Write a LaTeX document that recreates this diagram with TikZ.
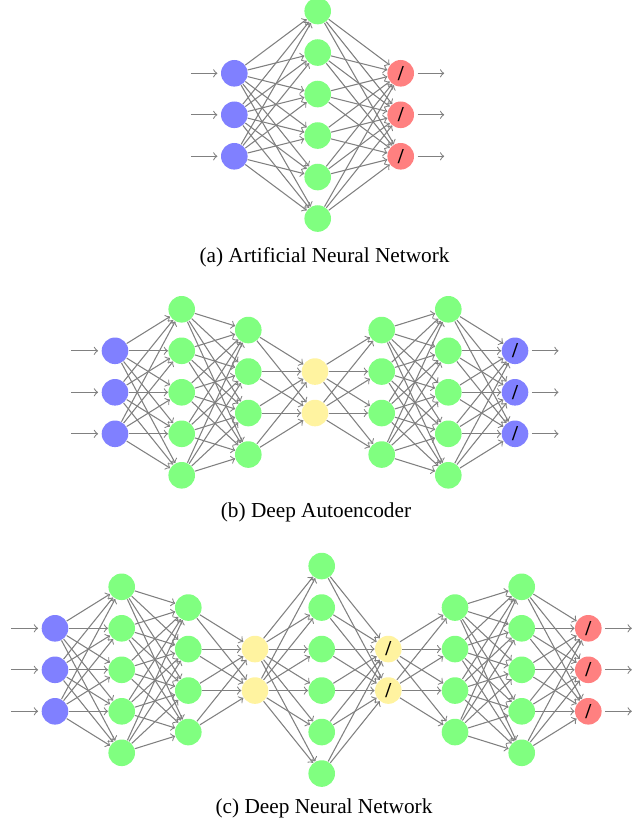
\documentclass[tikz,border=0pt]{standalone}
\usepackage{fontspec}
\setmainfont{Liberation Serif}
\usetikzlibrary{positioning}

\definecolor{inblue}{RGB}{128,128,255}
\definecolor{hidgreen}{RGB}{128,255,128}
\definecolor{codeyellow}{RGB}{255,243,160}
\definecolor{outred}{RGB}{255,128,128}

\def\vgap{41.5}

% one network: #1 name prefix, #2 centre line, #3 layers as x/count/style
\newcommand{\netpanel}[3]{%
  \foreach \x/\n/\s [count=\i, remember=\n as \m (initially 0)] in {#3} {
    \foreach \j in {1,...,\n}
      \node (#1-\i-\j) at (\x, {#2+(\j-(\n+1)/2)*\vgap}) [\s];
    \ifnum\i>1
      \pgfmathtruncatemacro\h{\i-1}
      \foreach \p in {1,...,\m}
        \foreach \q in {1,...,\n}
          \draw[link] (#1-\h-\p) -- (#1-\i-\q);
    \fi
  }%
}

\begin{document}
\begin{tikzpicture}[
    x=0.47pt, y=-0.47pt,
    neuron/.style={circle, inner sep=0pt, minimum size=12.5pt, font=\bfseries, node contents={}},
    inp/.style={neuron, fill=inblue},
    hid/.style={neuron, fill=hidgreen},
    code/.style={neuron, fill=codeyellow},
    codeout/.style={code, node contents=/},
    outp/.style={neuron, fill=outred, node contents=/},
    outb/.style={inp, node contents=/},
    link/.style={->, draw=gray, line width=0.5pt},
    inarrow/.style={link, shorten >=1.5pt},
    outarrow/.style={link, shorten <=1.5pt},
    caption/.style={font=\normalsize},
    >=to
]
\useasboundingbox (0,0) rectangle (641,824);

% (a)
\netpanel{a}{114.8}{234.3/3/inp, 317.7/6/hid, 400.7/3/outp}
\foreach \j in {1,2,3} {
  \coordinate[left=14pt of a-1-\j] (a-in-\j);
  \coordinate[right=14pt of a-3-\j] (a-out-\j);
  \draw[inarrow] (a-in-\j) -- (a-1-\j);
  \draw[outarrow] (a-3-\j) -- (a-out-\j);
}
\node[caption] (cap-a) at (324.5,257.5) {(a) Artificial Neural Network};

% (b)
\netpanel{b}{392.3}{115/3/inp, 181.7/5/hid, 248.3/4/hid, 315/2/code, 381.7/4/hid, 448.3/5/hid, 515/3/outb}
\foreach \j in {1,2,3} {
  \coordinate[left=14pt of b-1-\j] (b-in-\j);
  \coordinate[right=14pt of b-7-\j] (b-out-\j);
  \draw[inarrow] (b-in-\j) -- (b-1-\j);
  \draw[outarrow] (b-7-\j) -- (b-out-\j);
}
\node[caption] (cap-b) at (316,512) {(b) Deep Autoencoder};

% (c)
\netpanel{c}{669.8}{55/3/inp, 121.7/5/hid, 188.3/4/hid, 255/2/code, 321.7/6/hid, 388.3/2/codeout, 455/4/hid, 521.7/5/hid, 588.3/3/outp}
\foreach \j in {1,2,3} {
  \coordinate[left=14pt of c-1-\j] (c-in-\j);
  \coordinate[right=14pt of c-9-\j] (c-out-\j);
  \draw[inarrow] (c-in-\j) -- (c-1-\j);
  \draw[outarrow] (c-9-\j) -- (c-out-\j);
}
\node[caption] (cap-c) at (324,808.5) {(c) Deep Neural Network};

\end{tikzpicture}
\end{document}
